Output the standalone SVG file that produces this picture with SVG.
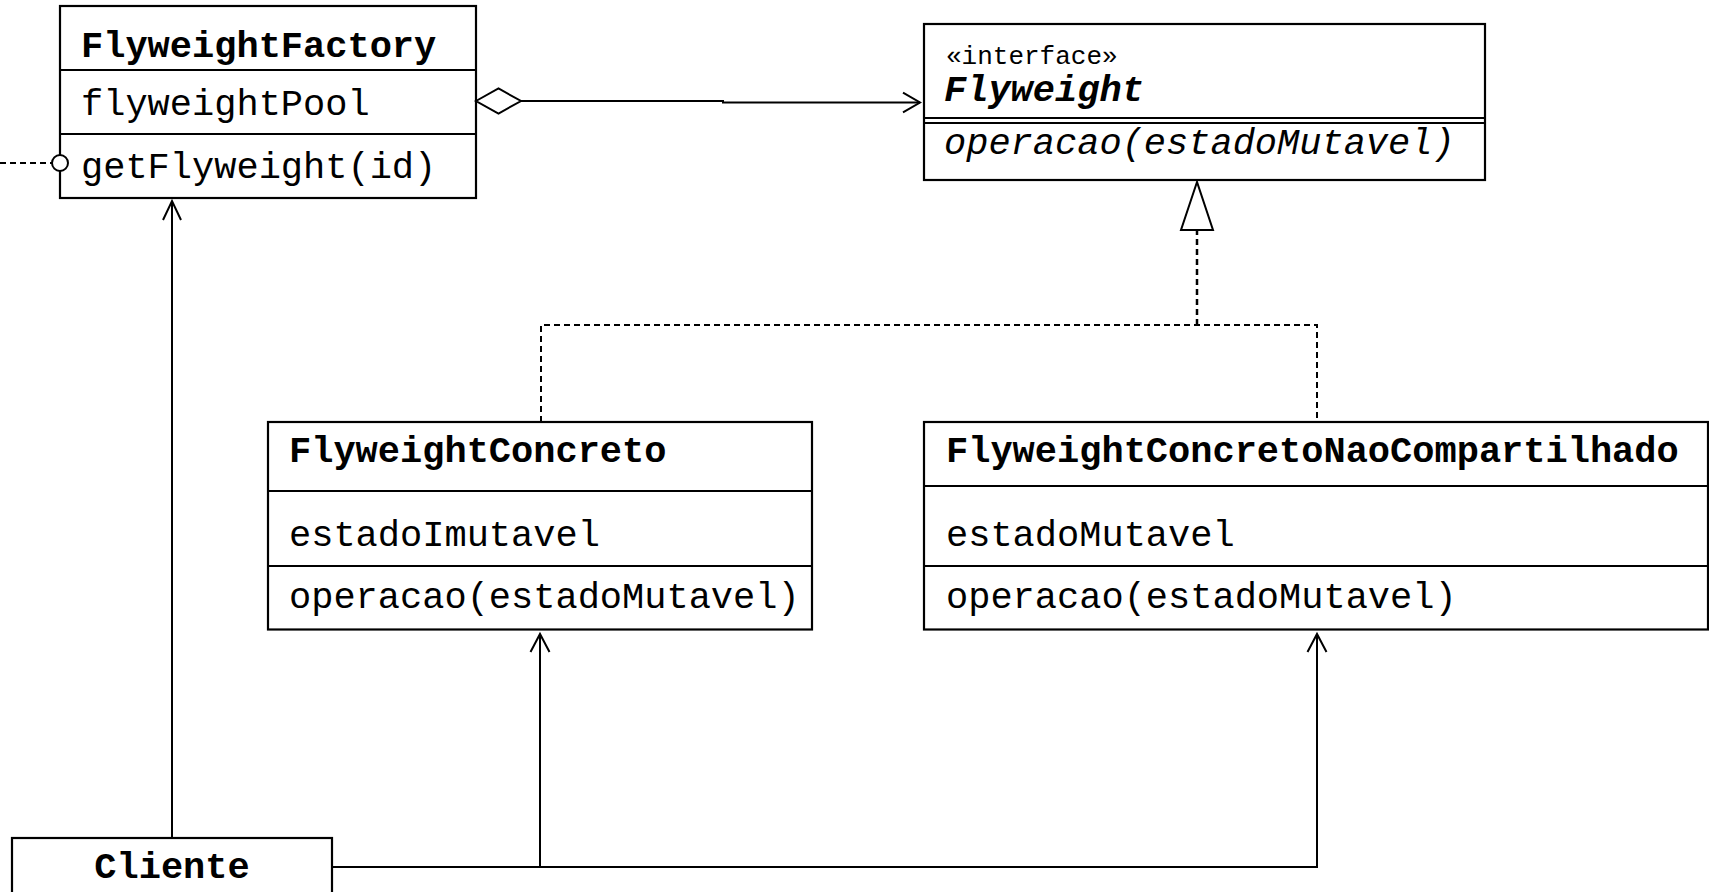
<svg xmlns="http://www.w3.org/2000/svg" width="1709" height="892" viewBox="0 0 1709 892">
<style>
.box{fill:#fff;stroke:#000;stroke-width:2.2}
.div{stroke:#000;stroke-width:2.2}
.t{font-family:"Liberation Mono","Courier New",monospace;font-size:37px;fill:#000}
.b{font-weight:bold}
.i{font-style:italic}
.st{font-size:26px}
.ln{fill:none;stroke:#000;stroke-width:2}
.dash{fill:none;stroke:#000;stroke-width:2;stroke-dasharray:6 4}
.arr{fill:none;stroke:#000;stroke-width:2}
.head{fill:#fff;stroke:#000;stroke-width:2}
</style>
<rect width="1709" height="892" fill="#fff"/>
<g id="connectors">
  <path class="ln" d="M521,101 L723,101 L723,102.5 L920,102.5"/>
  <polyline class="arr" points="903,92.7 920,102.5 903,112.3"/>
  <line class="dash" x1="0" y1="163" x2="52" y2="163"/>
  <line class="ln" x1="172" y1="838" x2="172" y2="201"/>
  <polyline class="arr" points="163,220 172,201 181,220"/>
  <path class="ln" d="M332,867 L1317,867 L1317,634"/>
  <line class="ln" x1="540" y1="867" x2="540" y2="634"/>
  <polyline class="arr" points="530.5,652 540,634 549.5,652"/>
  <polyline class="arr" points="1307.5,652 1317,634 1326.5,652"/>
  <path class="dash" d="M541,422 L541,325 L1317,325 L1317,422"/>
  <line class="dash" x1="1197" y1="325" x2="1197" y2="230" style="stroke-width:2.5"/>
</g>
<g id="FlyweightFactory">
  <rect class="box" x="60" y="6" width="416" height="192"/>
  <line class="div" x1="60" y1="70" x2="476" y2="70"/>
  <line class="div" x1="60" y1="134" x2="476" y2="134"/>
  <text class="t b" x="81" y="57">FlyweightFactory</text>
  <text class="t" x="81" y="115">flyweightPool</text>
  <text class="t" x="81" y="178">getFlyweight(id)</text>
  <circle class="head" cx="60" cy="163" r="8"/>
  <polygon class="head" points="476,101 498.5,88.5 521,101 498.5,113.5"/>
</g>
<g id="Flyweight">
  <rect class="box" x="924" y="24" width="561" height="156"/>
  <line class="div" x1="924" y1="118" x2="1485" y2="118"/>
  <line class="div" x1="924" y1="123" x2="1485" y2="123"/>
  <text class="t st" x="946" y="64">«interface»</text>
  <text class="t b i" x="944" y="101">Flyweight</text>
  <text class="t i" x="944" y="154">operacao(estadoMutavel)</text>
  <polygon class="head" points="1197,182 1181,230 1213,230"/>
</g>
<g id="FlyweightConcreto">
  <rect class="box" x="268" y="422" width="544" height="207.5"/>
  <line class="div" x1="268" y1="491" x2="812" y2="491"/>
  <line class="div" x1="268" y1="566" x2="812" y2="566"/>
  <text class="t b" x="289" y="462">FlyweightConcreto</text>
  <text class="t" x="289" y="546">estadoImutavel</text>
  <text class="t" x="289" y="608">operacao(estadoMutavel)</text>
</g>
<g id="FlyweightConcretoNaoCompartilhado">
  <rect class="box" x="924" y="422" width="784" height="207.5"/>
  <line class="div" x1="924" y1="486" x2="1708" y2="486"/>
  <line class="div" x1="924" y1="566" x2="1708" y2="566"/>
  <text class="t b" x="946" y="462">FlyweightConcretoNaoCompartilhado</text>
  <text class="t" x="946" y="546">estadoMutavel</text>
  <text class="t" x="946" y="608">operacao(estadoMutavel)</text>
</g>
<g id="Cliente">
  <rect class="box" x="12" y="838" width="320" height="70"/>
  <text class="t b" x="172" y="878" text-anchor="middle">Cliente</text>
</g>
</svg>
